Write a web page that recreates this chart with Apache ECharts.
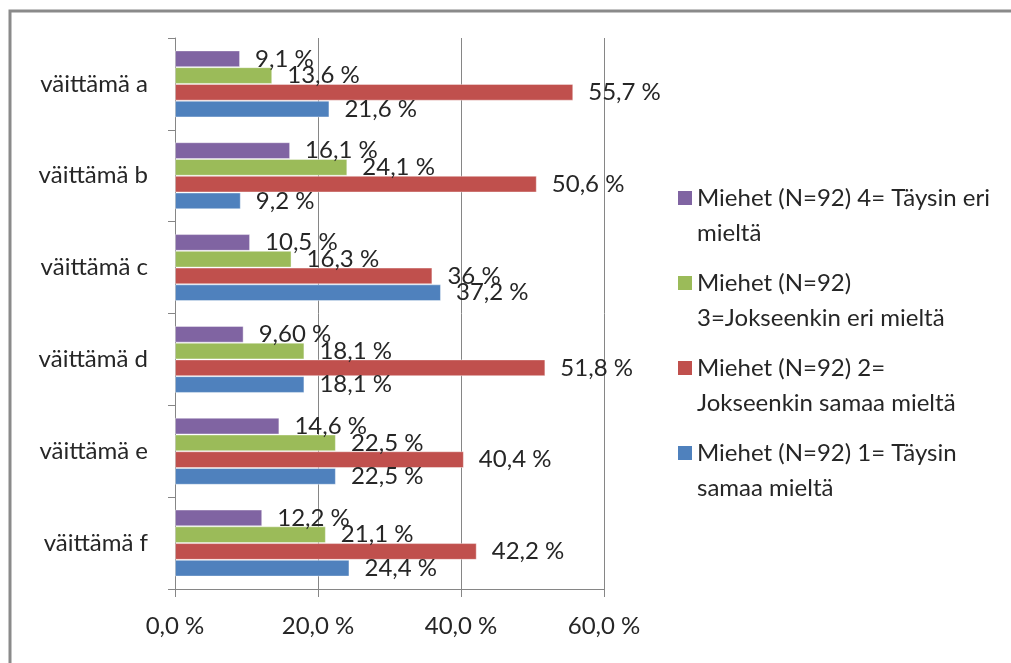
<!DOCTYPE html>
<html><head><meta charset="utf-8">
<script src="https://cdn.jsdelivr.net/npm/echarts@6/dist/echarts.min.js"></script>
<style>html,body{margin:0;padding:0;background:#fff}#c{width:1011px;height:663px}</style>
</head><body><div id="c"></div>
<script>
const categories = ['väittämä a', 'väittämä b', 'väittämä c', 'väittämä d', 'väittämä e', 'väittämä f'];
const seriesNames = [
  'Miehet (N=92) 4= Täysin eri\nmieltä',
  'Miehet (N=92)\n3=Jokseenkin eri mieltä',
  'Miehet (N=92) 2=\nJokseenkin samaa mieltä',
  'Miehet (N=92) 1= Täysin\nsamaa mieltä'
];
const s4 = [9.1, 16.1, 10.5, 9.6, 14.6, 12.2];
const s3 = [13.6, 24.1, 16.3, 18.1, 22.5, 21.1];
const s2 = [55.7, 50.6, 36, 51.8, 40.4, 42.2];
const s1 = [21.6, 9.2, 37.2, 18.1, 22.5, 24.4];
const colors = ['#8064A2', '#9BBB59', '#C0504D', '#4F81BD'];
const labelOverrides = { '0-3': '9,60 %' };
const FONT = 'Lato';
const TXT = '#262626';

const seriesData = [s4, s3, s2, s1];
const legendIcon = 'path://M0,0 L0.01,0 M0,70 L0.01,70 M0,10 L14,10 L14,24 L0,24 Z';
const chart = echarts.init(document.getElementById('c'));
chart.setOption({
  animation: false,
  textStyle: { fontFamily: FONT },
  grid: { left: 175, top: 38, width: 429, height: 551, containLabel: false },
  graphic: [{
    type: 'rect', shape: { x: 10, y: 11, width: 1100, height: 800 },
    style: { fill: 'none', stroke: '#8a8a8a', lineWidth: 3 }, silent: true
  }],
  legend: {
    orient: 'vertical', left: 673, top: 176,
    data: seriesNames.map(n => ({ name: n, icon: legendIcon })),
    itemWidth: 14, itemHeight: 70, itemGap: 15,
    selectedMode: false,
    itemStyle: { borderWidth: 0 },
    textStyle: { fontFamily: FONT, fontSize: 24, color: TXT, lineHeight: 35 }
  },
  xAxis: {
    type: 'value', min: 0, max: 60, interval: 20,
    axisLine: { show: true, lineStyle: { color: '#868686', width: 1 } },
    axisTick: { show: true, length: 8, lineStyle: { color: '#868686' } },
    splitLine: { show: true, lineStyle: { color: '#868686', width: 1 } },
    axisLabel: { fontFamily: FONT, fontSize: 24, color: TXT, margin: 25,
      formatter: v => v.toFixed(1).replace('.', ',') + ' %' }
  },
  yAxis: {
    type: 'category', data: categories, inverse: true,
    axisLine: { show: true, lineStyle: { color: '#868686', width: 1 } },
    axisTick: { show: true, length: 7, lineStyle: { color: '#868686' } },
    axisLabel: { fontFamily: FONT, fontSize: 24, color: TXT, margin: 27 }
  },
  series: seriesData.map((d, i) => ({
    type: 'bar', name: seriesNames[i], data: d,
    barGap: '0%', barCategoryGap: '27%',
    itemStyle: { color: colors[i], borderColor: 'rgba(255,255,255,0.4)', borderWidth: 1 },
    label: {
      show: true, position: 'right', distance: 15,
      fontFamily: FONT, fontSize: 24, color: TXT,
      formatter: p => labelOverrides[i + '-' + p.dataIndex] || (String(p.value).replace('.', ',') + ' %')
    }
  }))
});
</script></body></html>
